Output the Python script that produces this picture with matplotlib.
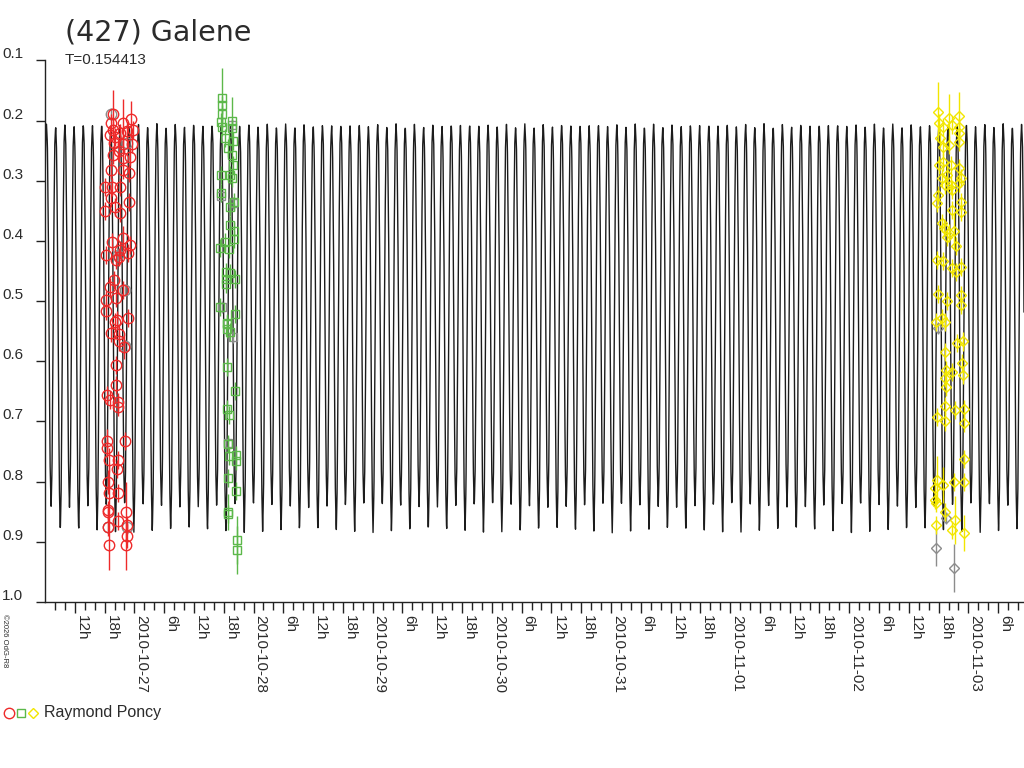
import numpy as np
import pandas as pd
import matplotlib
matplotlib.use('Agg')
import matplotlib.pyplot as plt
import matplotlib.dates as mdates
from matplotlib.lines import Line2D
from matplotlib.ticker import FixedLocator, FuncFormatter
from matplotlib.transforms import blended_transform_factory, ScaledTranslation

plt.rcParams['font.family'] = ['Liberation Sans', 'DejaVu Sans']

TITLE = '(427) Galene'
PERIOD = 0.154413  # days
OBSERVER = 'Raymond Poncy'
BASE = pd.Timestamp('2010-10-26')

# model lightcurve over one rotation: phase -> magnitude
model_phase = [0.0, 0.05, 0.10, 0.15, 0.20, 0.25, 0.30, 0.35, 0.40, 0.45, 0.50,
               0.55, 0.60, 0.65, 0.70, 0.75, 0.80, 0.85, 0.90, 0.95, 1.0]
model_mag = [0.205, 0.24, 0.38, 0.60, 0.78, 0.843, 0.78, 0.60, 0.38, 0.24, 0.208,
             0.25, 0.40, 0.63, 0.81, 0.885, 0.81, 0.62, 0.39, 0.24, 0.205]
model_epoch_h = 6.3   # hours after BASE where phase is 0

# plotted time range, hours after BASE
x_start_h = 6.0
x_end_h = 203.2

# observations: (hours after BASE, magnitude, error)
red_obs = [
    (19.64, 0.189, 0.04), (23.26, 0.198, 0.03), (19.23, 0.204, 0.015), (21.77, 0.204, 0.04),
    (19.70, 0.215, 0.015), (23.67, 0.215, 0.015), (21.11, 0.220, 0.015), (22.46, 0.218, 0.015),
    (20.10, 0.227, 0.015), (19.09, 0.224, 0.015), (23.47, 0.238, 0.015), (19.90, 0.237, 0.015),
    (21.77, 0.238, 0.015), (20.97, 0.251, 0.015), (19.76, 0.257, 0.015), (23.12, 0.260, 0.015),
    (21.77, 0.262, 0.015), (19.23, 0.282, 0.015), (21.77, 0.282, 0.015), (22.98, 0.287, 0.015),
    (18.09, 0.311, 0.015), (21.11, 0.311, 0.015), (19.44, 0.311, 0.015), (19.23, 0.329, 0.015),
    (22.98, 0.335, 0.015), (20.10, 0.343, 0.015), (18.09, 0.350, 0.015), (21.11, 0.354, 0.015),
    (19.44, 0.401, 0.015), (21.77, 0.395, 0.02), (23.12, 0.406, 0.015), (21.11, 0.415, 0.015),
    (18.29, 0.423, 0.015), (22.78, 0.420, 0.015), (20.30, 0.431, 0.015), (20.97, 0.426, 0.015),
    (19.90, 0.465, 0.015), (19.09, 0.476, 0.015), (21.77, 0.481, 0.015), (18.29, 0.498, 0.015),
    (20.30, 0.495, 0.015), (18.29, 0.516, 0.015), (20.44, 0.531, 0.015), (22.78, 0.528, 0.015),
    (20.10, 0.534, 0.015), (19.23, 0.553, 0.015), (20.97, 0.554, 0.015), (20.97, 0.567, 0.015),
    (21.97, 0.576, 0.02), (20.30, 0.606, 0.015), (20.30, 0.639, 0.015), (18.43, 0.656, 0.015),
    (19.09, 0.664, 0.015), (20.77, 0.667, 0.015), (20.77, 0.676, 0.015), (18.55, 0.733, 0.02),
    (22.12, 0.732, 0.015), (18.55, 0.744, 0.015), (18.95, 0.764, 0.02), (20.77, 0.764, 0.015),
    (20.56, 0.779, 0.015), (18.75, 0.801, 0.02), (18.95, 0.819, 0.05), (20.77, 0.819, 0.015),
    (18.75, 0.847, 0.015), (18.75, 0.851, 0.015), (22.32, 0.850, 0.05), (18.75, 0.875, 0.015),
    (20.77, 0.866, 0.015), (22.46, 0.872, 0.015), (22.58, 0.890, 0.02), (18.95, 0.906, 0.04),
    (22.32, 0.906, 0.04),
]
red_gray = [
    (19.30, 0.189, 0.01), (22.52, 0.237, 0.01), (20.70, 0.423, 0.01), (22.12, 0.481, 0.01),
    (22.12, 0.574, 0.01), (18.69, 0.875, 0.01), (22.52, 0.875, 0.01),
]

green_obs = [
    (41.72, 0.162, 0.05), (41.72, 0.174, 0.015), (41.72, 0.189, 0.015), (41.45, 0.202, 0.015),
    (41.60, 0.210, 0.015), (43.73, 0.200, 0.04), (43.73, 0.213, 0.015), (42.26, 0.229, 0.015),
    (43.93, 0.234, 0.015), (42.92, 0.246, 0.015), (43.73, 0.257, 0.015), (43.93, 0.274, 0.015),
    (43.27, 0.290, 0.015), (41.45, 0.290, 0.015), (43.61, 0.296, 0.015), (41.45, 0.321, 0.015),
    (44.13, 0.335, 0.015), (43.27, 0.343, 0.015), (43.27, 0.373, 0.015), (44.13, 0.384, 0.015),
    (44.13, 0.397, 0.015), (42.26, 0.401, 0.015), (41.25, 0.412, 0.015), (43.06, 0.413, 0.015),
    (42.40, 0.451, 0.015), (43.27, 0.453, 0.015), (42.40, 0.463, 0.015), (44.27, 0.463, 0.015),
    (42.40, 0.472, 0.015), (41.25, 0.509, 0.015), (44.27, 0.522, 0.015), (42.60, 0.537, 0.015),
    (42.60, 0.538, 0.015), (42.60, 0.547, 0.015), (43.27, 0.552, 0.015), (42.60, 0.609, 0.015),
    (44.27, 0.650, 0.015), (42.60, 0.679, 0.015), (43.06, 0.689, 0.015), (42.80, 0.738, 0.015),
    (43.06, 0.758, 0.015), (44.41, 0.755, 0.015), (44.41, 0.765, 0.015), (42.80, 0.794, 0.015),
    (44.41, 0.815, 0.015), (42.92, 0.851, 0.03), (42.80, 0.853, 0.015), (44.62, 0.897, 0.04),
    (44.62, 0.913, 0.04),
]
green_gray = [
    (43.67, 0.207, 0.01), (41.45, 0.325, 0.01), (43.87, 0.337, 0.01), (41.65, 0.509, 0.01),
    (43.87, 0.559, 0.01), (42.86, 0.735, 0.01),
]

yellow_obs = [
    (185.89, 0.186, 0.05), (186.03, 0.204, 0.015), (188.16, 0.196, 0.04), (190.17, 0.193, 0.04),
    (186.83, 0.210, 0.015), (188.70, 0.207, 0.015), (190.17, 0.210, 0.015), (186.35, 0.229, 0.015),
    (190.05, 0.221, 0.015), (186.83, 0.243, 0.015), (190.05, 0.235, 0.015), (188.04, 0.240, 0.015),
    (186.83, 0.268, 0.015), (186.03, 0.274, 0.015), (188.56, 0.274, 0.015), (190.05, 0.278, 0.015),
    (187.70, 0.290, 0.015), (186.69, 0.296, 0.015), (190.58, 0.296, 0.015), (190.05, 0.304, 0.015),
    (188.56, 0.307, 0.015), (188.70, 0.315, 0.015), (187.35, 0.307, 0.015), (185.89, 0.323, 0.015),
    (185.69, 0.337, 0.015), (190.58, 0.335, 0.015), (188.70, 0.348, 0.015), (190.58, 0.351, 0.015),
    (186.69, 0.370, 0.015), (187.03, 0.378, 0.015), (189.04, 0.384, 0.03), (188.04, 0.387, 0.015),
    (187.70, 0.393, 0.015), (189.51, 0.409, 0.015), (185.69, 0.431, 0.015), (186.83, 0.434, 0.015),
    (188.70, 0.445, 0.015), (190.58, 0.443, 0.015), (189.51, 0.452, 0.015), (185.89, 0.488, 0.015),
    (190.58, 0.490, 0.015), (187.70, 0.500, 0.015), (190.58, 0.507, 0.015), (186.69, 0.528, 0.015),
    (185.48, 0.535, 0.015), (187.35, 0.534, 0.015), (189.71, 0.570, 0.015), (190.86, 0.567, 0.015),
    (187.23, 0.585, 0.015), (190.72, 0.602, 0.015), (187.49, 0.615, 0.015), (188.70, 0.617, 0.015),
    (187.23, 0.628, 0.015), (190.86, 0.622, 0.015), (187.49, 0.643, 0.015), (187.23, 0.674, 0.015),
    (189.37, 0.681, 0.015), (191.06, 0.679, 0.015), (185.69, 0.692, 0.015), (187.35, 0.700, 0.015),
    (191.06, 0.703, 0.015), (191.06, 0.762, 0.015), (185.69, 0.797, 0.04), (186.83, 0.805, 0.03),
    (189.04, 0.801, 0.015), (191.06, 0.800, 0.015), (185.22, 0.811, 0.015), (185.34, 0.830, 0.015),
    (185.48, 0.836, 0.015), (187.35, 0.850, 0.015), (189.24, 0.863, 0.04), (185.48, 0.872, 0.015),
    (188.70, 0.880, 0.015), (191.06, 0.885, 0.03),
]
yellow_gray = [
    (185.48, 0.910, 0.03), (189.04, 0.944, 0.04), (187.55, 0.860, 0.01), (185.89, 0.545, 0.01),
]

COL_RED = '#ee2a2a'
COL_GREEN = '#5cb84a'
COL_YELLOW = '#f2e600'
COL_GRAY = '#8c8c8c'
COL_TEXT = '#2b2b2b'


def hours_to_num(h):
    return mdates.date2num(BASE.to_pydatetime()) + np.asarray(h, dtype=float) / 24.0


fig = plt.figure(figsize=(10.24, 7.68), dpi=100, facecolor='white')
ax = fig.add_axes([45 / 1024, 1 - 602 / 768, 1 - 45 / 1024, (602 - 60.5) / 768])

# model curve
t_h = np.linspace(x_start_h, x_end_h, 4000)
phase = ((t_h - model_epoch_h) / 24.0 / PERIOD) % 1.0
ax.plot(hours_to_num(t_h), np.interp(phase, model_phase, model_mag),
        color='#1c1c1c', lw=1.0, zorder=1)

# observations
sessions = [
    (red_obs, red_gray, 'o', 7.5, COL_RED),
    (green_obs, green_gray, 's', 5.5, COL_GREEN),
    (yellow_obs, yellow_gray, 'D', 5, COL_YELLOW),
]
for obs, gray, marker, ms, col in sessions:
    for rows, c, z in [(gray, COL_GRAY, 2), (obs, col, 3)]:
        h, m, e = np.array(rows).T
        ax.errorbar(hours_to_num(h), m, yerr=e, fmt='none', ecolor=c, elinewidth=1, zorder=z)
        ax.plot(hours_to_num(h), m, linestyle='none', marker=marker, ms=ms,
                mfc='none', mec=c, mew=1, zorder=z)

ax.set_xlim(hours_to_num(x_start_h), hours_to_num(x_end_h))
ax.set_ylim(1.0, 0.1)

# axes styling
for s in ['top', 'right']:
    ax.spines[s].set_visible(False)
for s in ['left', 'bottom']:
    ax.spines[s].set_color('#222222')
    ax.spines[s].set_linewidth(1)

# x ticks: minor every 2h, major every 6h (the one on the left border is left out)
x0 = hours_to_num(0)
ax.xaxis.set_major_locator(FixedLocator(hours_to_num(np.arange(12, 216, 6))))
ax.xaxis.set_minor_locator(FixedLocator(hours_to_num(np.arange(8, 216, 2))))


def xfmt(x, pos):
    h = int(round((x - x0) * 24)) % 24
    if h == 0:
        return mdates.num2date(round(x)).strftime('%Y-%m-%d')
    return f'{h}h'


ax.xaxis.set_major_formatter(FuncFormatter(xfmt))
ax.tick_params(axis='x', which='major', direction='out', length=7.9, width=1,
               color='#222222', pad=1.5, labelsize=11, labelcolor=COL_TEXT)
ax.tick_params(axis='x', which='minor', direction='out', length=5.8, width=1,
               color='#222222')
for lbl in ax.get_xticklabels():
    lbl.set_rotation(-90)
    lbl.set_ha('left')
    lbl.set_va('top')

# y ticks, labels placed at the left border above each tick
ytick_vals = [0.1, 0.2, 0.3, 0.4, 0.5, 0.6, 0.7, 0.8, 0.9, 1.0]
ytick_labels = ['0.1', '0.2', '0.3', '0.4', '0.5', '0.6', '0.7', '0.8', '0.9', '1.0']
ax.set_yticks(ytick_vals)
ax.set_yticklabels([])
ax.tick_params(axis='y', direction='out', length=6.5, width=1, color='#222222')
trans = blended_transform_factory(fig.transFigure, ax.transData) + \
    ScaledTranslation(0, 2 / 100, fig.dpi_scale_trans)
for v, lab in zip(ytick_vals, ytick_labels):
    ax.text(2 / 1024, v, lab, transform=trans, ha='left', va='baseline',
            fontsize=11, color=COL_TEXT)

# titles
fig.text(65 / 1024, 1 - 41 / 768, TITLE, fontsize=20.5, color=COL_TEXT,
         family=['DejaVu Sans'], ha='left', va='baseline')
fig.text(65 / 1024, 1 - 64 / 768, f'T={PERIOD}', fontsize=11, color=COL_TEXT,
         ha='left', va='baseline')

# copyright
fig.text(1 / 1024, 1 - 614 / 768, '\u00a92026 OdG-R8', fontsize=5.5, color=COL_TEXT,
         rotation=-90, ha='left', va='top')

# legend line at bottom
for xp, mk, ms, col in [(9, 'o', 7.5, COL_RED), (21, 's', 6, COL_GREEN), (33, 'D', 5.5, COL_YELLOW)]:
    fig.add_artist(Line2D([xp / 1024], [1 - 713 / 768], marker=mk, ms=ms, mfc='none',
                          mec=col, mew=1, linestyle='none', transform=fig.transFigure))
fig.text(44 / 1024, 1 - 713 / 768, OBSERVER, fontsize=11.5, color=COL_TEXT,
         ha='left', va='center')

fig.savefig('out.png', dpi=100, facecolor='white')
